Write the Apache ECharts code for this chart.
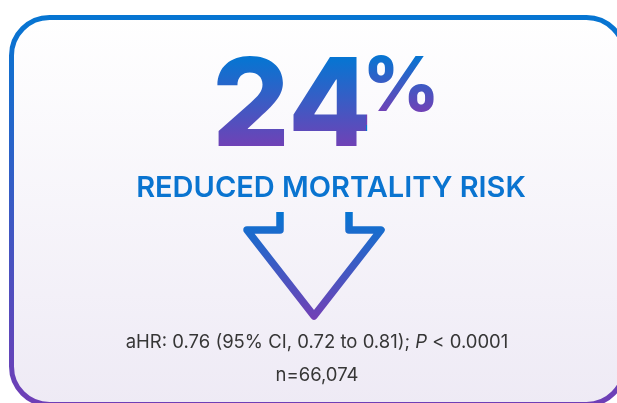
<!DOCTYPE html>
<html>
<head>
<meta charset="utf-8">
<script src="https://cdn.jsdelivr.net/npm/echarts@6/dist/echarts.min.js"></script>
<style>
  html, body { margin: 0; padding: 0; background: #fff; }
  #main { width: 617px; height: 403px; }
</style>
</head>
<body>
<div id="main"></div>
<script>
// headline figures
var headValue = ['24'];
var headUnit = ['%'];
var headLabel = ['REDUCED MORTALITY RISK'];
var statLines = ['aHR: 0.76 (95% CI, 0.72 to 0.81); ', 'P', ' < 0.0001'];
var sampleSize = ['n=66,074'];

var blue = '#0675d2';
var purple = '#7340b5';

function vGrad(c0, c1) {
    return new echarts.graphic.LinearGradient(0, 0, 0, 1, [
        { offset: 0, color: c0 },
        { offset: 1, color: c1 }
    ]);
}
function vGradAbs(y0, y1, c0, c1) {
    return new echarts.graphic.LinearGradient(0, y0, 0, y1, [
        { offset: 0, color: c0 },
        { offset: 1, color: c1 }
    ], true);
}

var chart = echarts.init(document.getElementById('main'), null, { renderer: 'canvas' });

// text can't take a gradient fill, so the big number sits on its own layer
// and a gradient rect is painted over it with source-atop
var option = {
    backgroundColor: '#ffffff',
    graphic: [
        {
            // card
            type: 'rect',
            shape: { x: 11.5, y: 17.5, width: 613, height: 387, r: 38 },
            style: {
                fill: vGrad('#ffffff', '#eeeaf5'),
                stroke: vGradAbs(17, 404, '#0675d2', '#6f3eb6'),
                lineWidth: 5
            }
        },
        {
            type: 'text',
            zlevel: 1, z: 1,
            style: {
                text: headValue[0],
                x: 292, y: 170,
                textAlign: 'center',
                textVerticalAlign: 'bottom',
                font: '800 122px Inter',
                fill: blue
            }
        },
        {
            type: 'text',
            zlevel: 1, z: 1,
            style: {
                text: headUnit[0],
                x: 401, y: 126,
                textAlign: 'center',
                textVerticalAlign: 'bottom',
                font: '800 75px Inter',
                fill: blue
            }
        },
        {
            type: 'rect',
            zlevel: 1, z: 2,
            shape: { x: 190, y: 40, width: 176, height: 120 },
            style: { fill: vGradAbs(58, 149, blue, purple), blend: 'source-atop' }
        },
        {
            type: 'rect',
            zlevel: 1, z: 2,
            shape: { x: 366, y: 40, width: 90, height: 85 },
            style: { fill: vGradAbs(56, 113, blue, purple), blend: 'source-atop' }
        },
        {
            type: 'text',
            style: {
                text: headLabel[0],
                x: 331, y: 202.5,
                textAlign: 'center',
                textVerticalAlign: 'bottom',
                font: '600 29px Inter',
                fill: '#0a74d0'
            }
        },
        {
            // down arrow outline
            type: 'polyline',
            shape: {
                points: [[280, 212], [280, 230], [247, 230], [314, 316], [381, 230], [349, 230], [349, 212]]
            },
            style: {
                fill: null,
                stroke: vGradAbs(212, 320, blue, purple),
                lineWidth: 7.5,
                lineJoin: 'round'
            }
        },
        {
            type: 'text',
            style: {
                text: '{a|' + statLines[0] + '}{i|' + statLines[1] + '}{a|' + statLines[2] + '}',
                x: 317, y: 342,
                textAlign: 'center',
                textVerticalAlign: 'middle',
                rich: {
                    a: { font: '400 18.5px Inter', fill: '#363636' },
                    i: { font: 'italic 400 18.5px Inter', fill: '#363636' }
                }
            }
        },
        {
            type: 'text',
            style: {
                text: sampleSize[0],
                x: 317, y: 375,
                textAlign: 'center',
                textVerticalAlign: 'middle',
                font: '400 18.5px Inter',
                fill: '#363636'
            }
        }
    ]
};

chart.setOption(option);
</script>
</body>
</html>
